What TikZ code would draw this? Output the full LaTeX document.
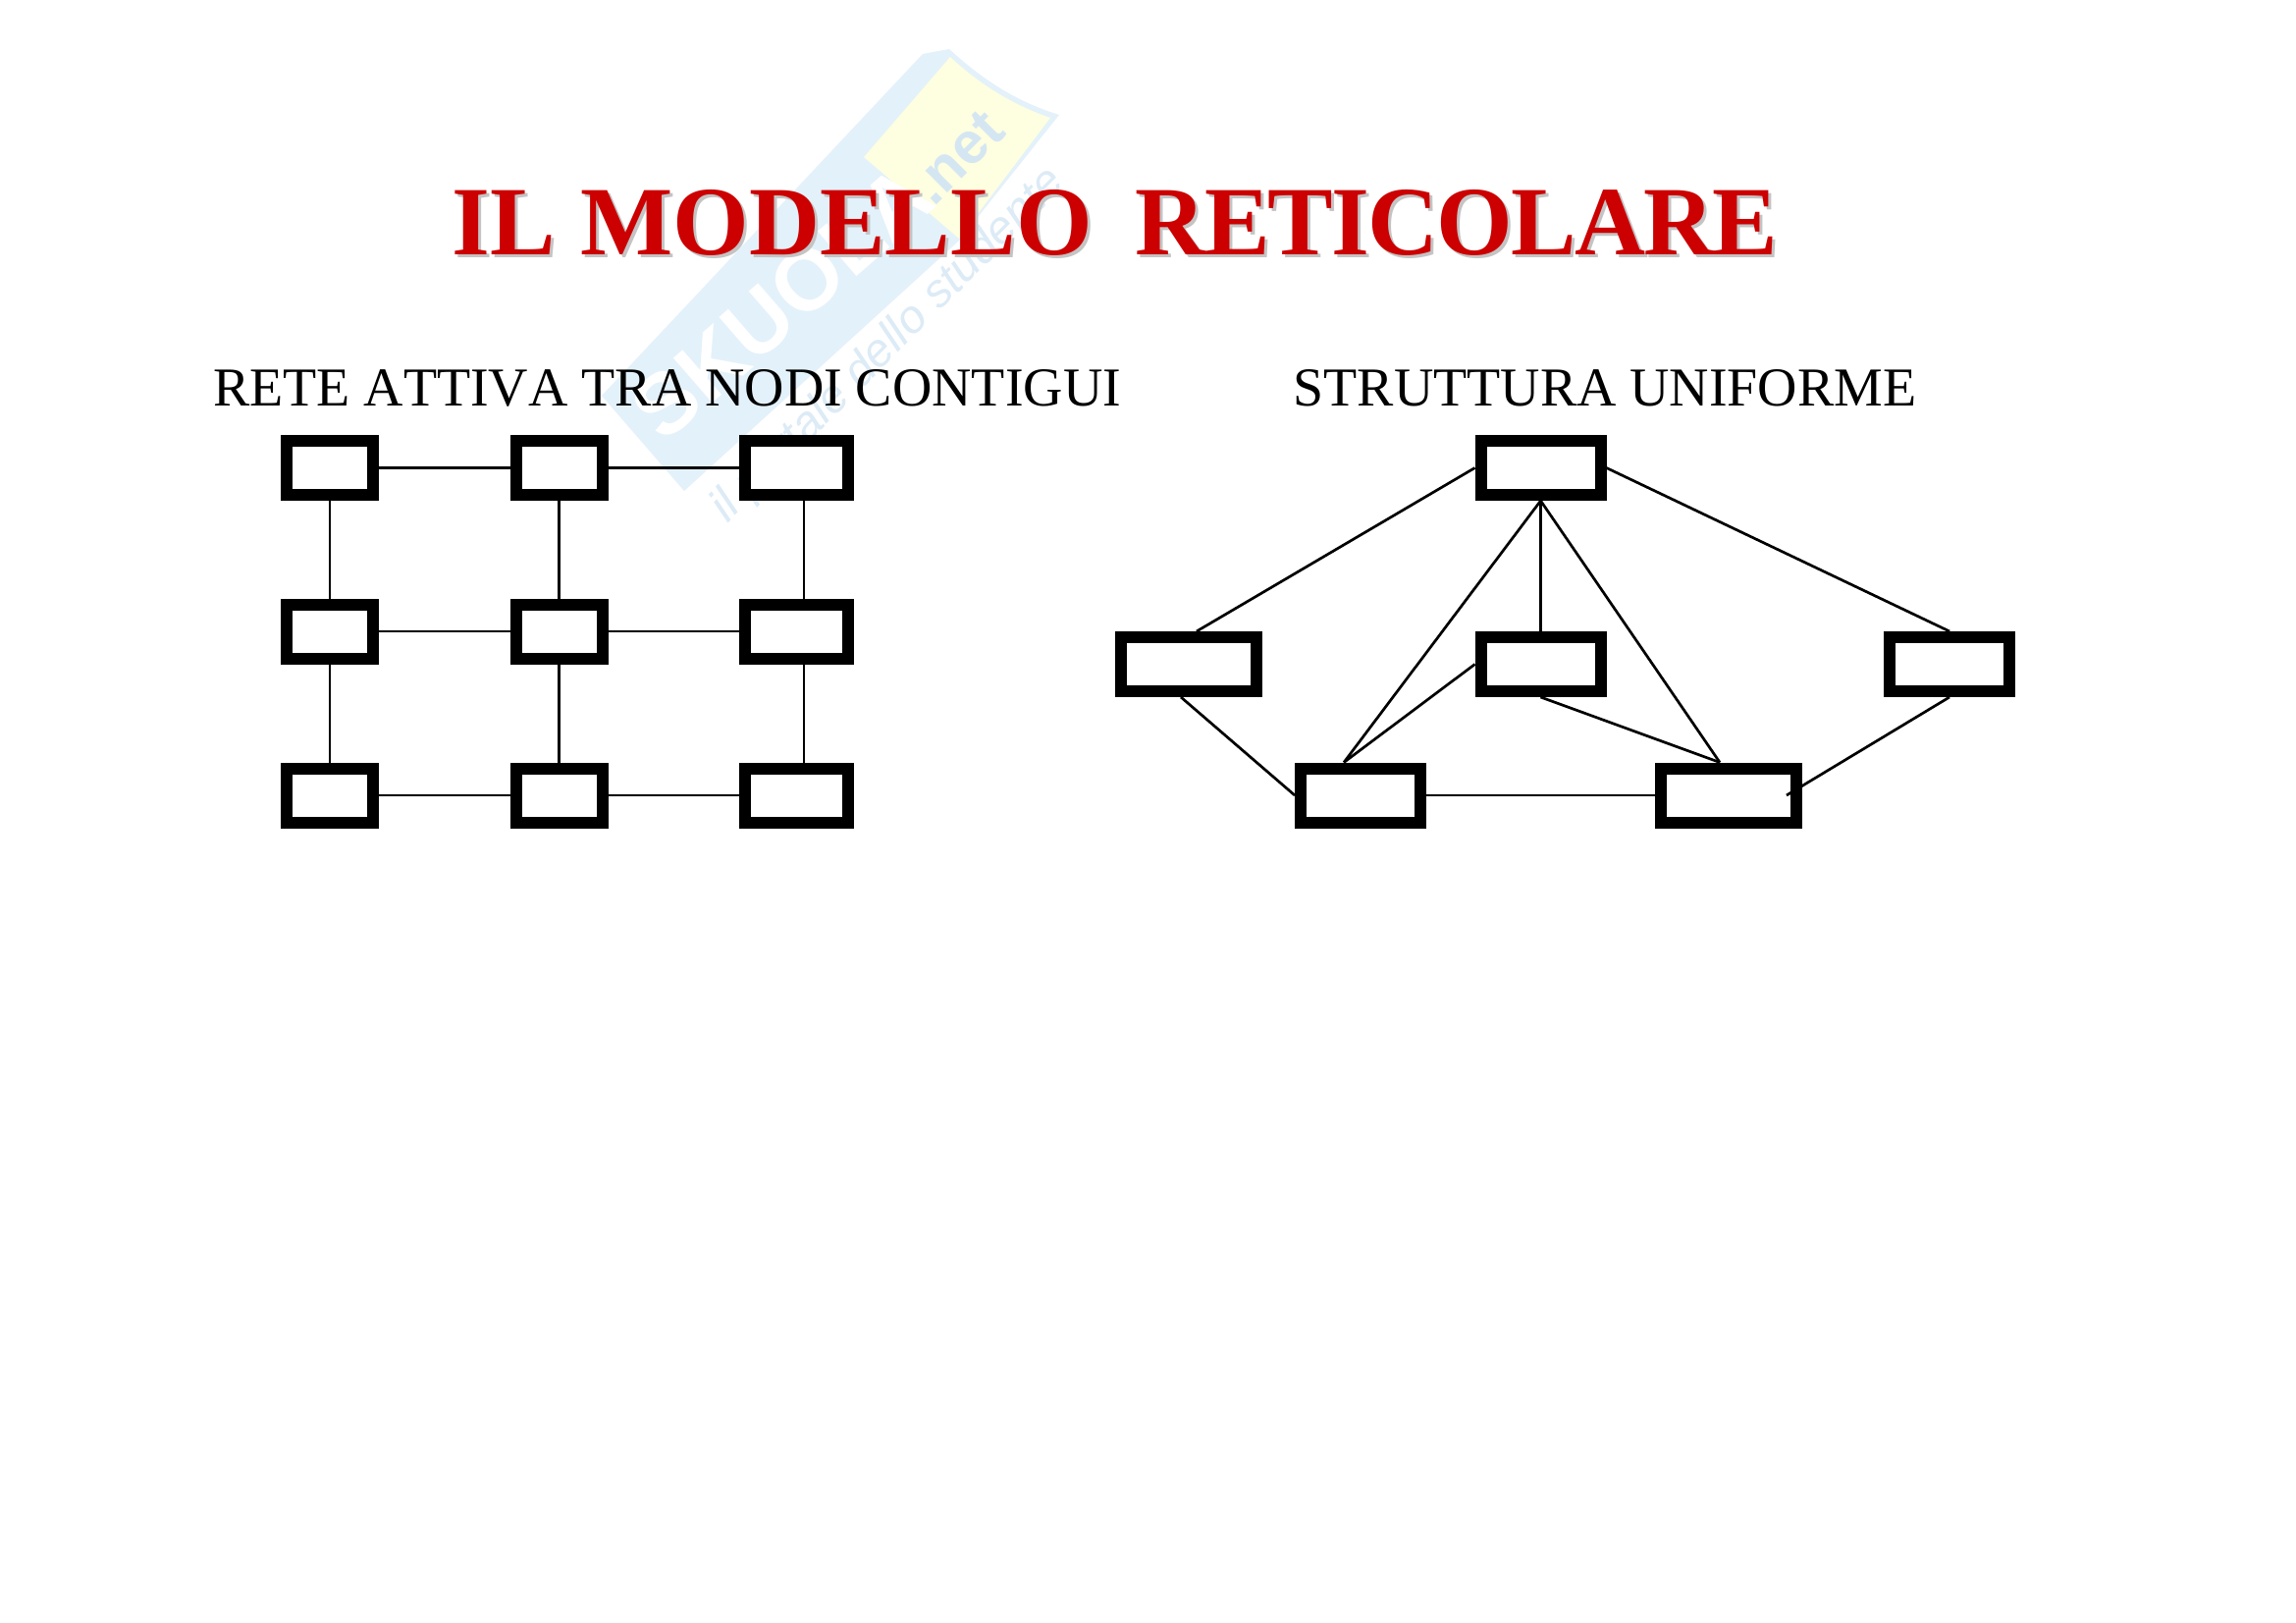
\documentclass[tikz,border=0pt]{standalone}
\usepackage{fontspec}
\setmainfont{Liberation Serif}
\setsansfont{Liberation Sans}
\usetikzlibrary{calc}
\definecolor{wmblue}{HTML}{E3F1FA}
\definecolor{wmyellow}{HTML}{FEFEE0}
\definecolor{wmtext}{HTML}{DCEBF6}
\definecolor{wmnetc}{HTML}{D5E6F3}
\definecolor{titlered}{HTML}{CC0000}
\definecolor{titleshadow}{HTML}{C4C4C4}
\tikzset{
  netbox/.style={draw=black,fill=white,line width=1.2mm,minimum height=5.5mm,inner sep=0pt},
  wide/.style={netbox,minimum width=8.8mm},
  wider/.style={netbox,minimum width=10.5mm},
  widest/.style={netbox,minimum width=12.2mm},
  widestb/.style={netbox,minimum width=13.8mm},
  link/.style={line width=0.27mm,black},
  headline/.style={anchor=base,inner sep=0pt,font=\fontsize{15.9pt}{18pt}\selectfont\addfontfeature{Kerning=Off}},
  titletext/.style={anchor=base,inner sep=0pt,font=\fontsize{28.4pt}{32pt}\selectfont\bfseries},
  wmark/.style={inner sep=0pt,rotate=45},
}
\newcommand{\titlewords}{IL MODELLO\hspace{1.94mm} {\addfontfeature{LetterSpace=-1.9}RETICOLARE}}
\begin{document}
\begin{tikzpicture}[x=0.1mm,y=-0.1mm]
\useasboundingbox (0,0) rectangle (2339,1653);
\fill[white] (0,0) rectangle (2339,1653);
% watermark
\fill[wmblue] (613,403) -- (940,55) -- (967,50) .. controls (1005,85) and (1040,105) .. (1079,117) -- (977,245) -- (697,500) -- cycle;
\fill[wmyellow] (880,160) -- (968,58) .. controls (1000,88) and (1035,108) .. (1070,120) -- (977,243) -- cycle;
\node[wmark,rotate=-4,text=white,font=\sffamily\bfseries\fontsize{25pt}{27pt}\selectfont] (wmname) at (797,308) {SKUOLA};
\node[wmark,text=wmnetc,font=\sffamily\bfseries\fontsize{17pt}{20pt}\selectfont] (wmnet) at (975,160) {.net};
\node[wmark,text=wmtext,font=\sffamily\itshape\fontsize{13.5pt}{15pt}\selectfont] (wmslogan) at (905,352) {il portale dello studente};
% headings
\node[titletext,text=titleshadow] (titleb) at (1139,263) {\titlewords};
\node[titletext,text=titlered] (title) at (1136,260) {\titlewords};
\node[headline] (hl) at (679.5,413) {RETE ATTIVA TRA NODI CONTIGUI};
\node[headline] (hr) at (1635,413) {STRUTTURA UNIFORME};
% left grid
\node[wide] (a1) at (336,476.5) {};
\node[wide] (a2) at (569.7,476.5) {};
\node[wider] (a3) at (811,476.5) {};
\node[wide] (b1) at (336,643) {};
\node[wide] (b2) at (569.7,643) {};
\node[wider] (b3) at (811,643) {};
\node[wide] (c1) at (336,810) {};
\node[wide] (c2) at (569.7,810) {};
\node[wider] (c3) at (811,810) {};
\foreach \p/\q in {a1/a2,a2/a3,b1/b2,b2/b3,c1/c2,c2/c3} \draw[link] (\p.east) -- (\q.west);
\foreach \p/\q in {a1/b1,b1/c1,a2/b2,b2/c2} \draw[link] (\p.south) -- (\q.north);
\draw[link] ($(a3.south)+(8,0)$) -- ($(b3.north)+(8,0)$);
\draw[link] ($(b3.south)+(8,0)$) -- ($(c3.north)+(8,0)$);
% right net
\node[widest] (t) at (1569.5,476.5) {};
\node[widestb] (ml) at (1211,676.5) {};
\node[widest] (mc) at (1569.5,676.5) {};
\node[widest] (mr) at (1986,676.5) {};
\node[widest] (bl) at (1386,810) {};
\node[widestb] (br) at (1761,810) {};
\draw[link] (t.west) -- ($(ml.north)+(8,0)$);
\draw[link] (t.east) -- (mr.north);
\draw[link] (t.south) -- ($(bl.north)+(-17,0)$);
\draw[link] (t.south) -- (mc.north);
\draw[link] (t.south) -- ($(br.north)+(-9,0)$);
\draw[link] (mc.west) -- ($(bl.north)+(-17,0)$);
\draw[link] (mc.south) -- ($(br.north)+(-9,0)$);
\draw[link] ($(ml.south)+(-8,0)$) -- (bl.west);
\draw[link] (bl.east) -- (br.west);
\draw[link] (mr.south) -- ($(br.east)+(-16,0)$);
\end{tikzpicture}
\end{document}
